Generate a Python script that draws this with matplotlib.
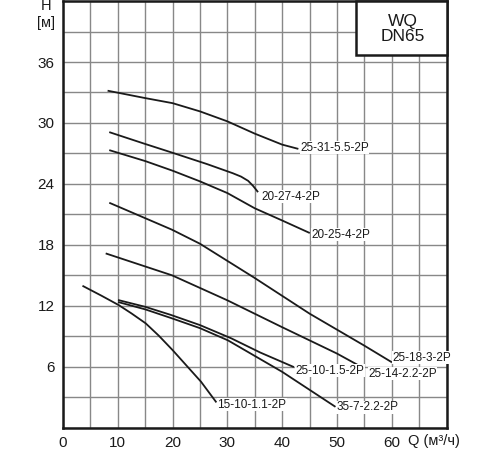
import matplotlib
matplotlib.use("Agg")
import matplotlib.pyplot as plt
from matplotlib.patches import Rectangle
import numpy as np

plt.rcParams['font.family'] = ['Liberation Sans', 'DejaVu Sans']

# pump curves: Q (m3/h), H (m)
q_25_31 = [8.3, 15.0, 20.0, 25.0, 30.0, 35.0, 40.0, 42.8]
h_25_31 = [33.16, 32.45, 31.95, 31.14, 30.16, 28.95, 27.87, 27.47]
q_20_27 = [8.6, 14.9, 20.2, 26.3, 31.0, 32.5, 33.8, 34.7, 35.5]
h_20_27 = [29.07, 27.95, 27.03, 25.95, 25.05, 24.72, 24.3, 23.8, 23.26]
q_20_25 = [8.6, 15.0, 20.0, 25.0, 30.0, 35.0, 40.0, 44.9]
h_20_25 = [27.3, 26.25, 25.3, 24.25, 23.1, 21.6, 20.4, 19.2]
q_25_18 = [8.6, 19.9, 25.0, 34.9, 45.0, 54.9, 59.9]
h_25_18 = [22.11, 19.49, 18.11, 14.77, 11.23, 8.11, 6.48]
q_25_14 = [7.95, 19.9, 30.0, 39.9, 50.0, 54.4]
h_25_14 = [17.13, 15.0, 12.54, 9.92, 7.3, 6.0]
q_15_10 = [3.7, 7.0, 10.2, 12.5, 15.1, 17.5, 20.0, 25.2, 27.9]
h_15_10 = [13.93, 13.0, 12.06, 11.25, 10.27, 9.05, 7.64, 4.52, 2.56]
q_25_10 = [10.2, 15.0, 19.7, 25.0, 30.7, 36.0, 42.0]
h_25_10 = [12.55, 11.9, 11.1, 10.1, 8.8, 7.4, 6.0]
q_35_7 = [10.2, 15.0, 19.7, 25.0, 30.1, 40.0, 49.6]
h_35_7 = [12.35, 11.65, 10.8, 9.8, 8.6, 5.5, 2.1]

names = ['25-31-5.5-2P', '20-27-4-2P', '20-25-4-2P', '25-18-3-2P',
         '25-14-2.2-2P', '15-10-1.1-2P', '25-10-1.5-2P', '35-7-2.2-2P']
curves = [(q_25_31, h_25_31), (q_20_27, h_20_27), (q_20_25, h_20_25),
          (q_25_18, h_25_18), (q_25_14, h_25_14), (q_15_10, h_15_10),
          (q_25_10, h_25_10), (q_35_7, h_35_7)]
# label anchor offsets (data units)
lab_dx = [0.5, 0.8, 0.4, 0.3, 1.3, 0.3, 0.5, 0.3]
lab_dy = [0.1, -0.5, -0.2, 0.4, -0.7, -0.3, -0.4, -0.1]

x_ticks = [0, 10, 20, 30, 40, 50, 60]
y_ticks = [6, 12, 18, 24, 30, 36]

fig = plt.figure(figsize=(5, 4.5), dpi=100)
ax = fig.add_axes([0.126, 0.0496, 0.767, 0.948])

for (q, h), nm, dx, dy in zip(curves, names, lab_dx, lab_dy):
    ax.plot(q, h, color='#1a1a1a', lw=1.3, zorder=3, solid_joinstyle='round')
    ax.text(q[-1] + dx, h[-1] + dy, nm, fontsize=8.5, ha='left', va='center',
            color='#1a1a1a', zorder=4,
            bbox=dict(facecolor='white', edgecolor='none', pad=0.3))

ax.set_xlim(0, 70)
ax.set_ylim(0, 42)
ax.set_xticks(np.arange(0, 71, 5))
ax.set_yticks(np.arange(0, 43, 3))
ax.set_xticklabels([str(v) if v in x_ticks else '' for v in np.arange(0, 71, 5)])
ax.set_yticklabels([str(v) if v in y_ticks else '' for v in np.arange(0, 43, 3)])
ax.tick_params(length=0, labelsize=11, pad=6, colors='#1a1a1a')
ax.grid(True, color='#888888', lw=1.0)
ax.set_axisbelow(True)
for s in ax.spines.values():
    s.set_linewidth(1.8)
    s.set_color('#1a1a1a')

# title box in the corner
ax.add_patch(Rectangle((53.5, 36.65), 16.5, 5.35, facecolor='white',
                       edgecolor='#1a1a1a', lw=1.8, zorder=5, clip_on=False))
ax.text(62.1, 39.25, 'WQ\nDN65', fontsize=12.5, ha='center', va='center',
        linespacing=1.0, color='#1a1a1a', zorder=6)

fig.text(0.092, 0.987, 'H', fontsize=10.5, ha='center', va='center', color='#1a1a1a')
fig.text(0.092, 0.948, '[м]', fontsize=10.5, ha='center', va='center', color='#1a1a1a')
fig.text(0.816, 0.02, 'Q (м³/ч)', fontsize=10.5, ha='left', va='center', color='#1a1a1a')

fig.savefig('out.png', dpi=100)
